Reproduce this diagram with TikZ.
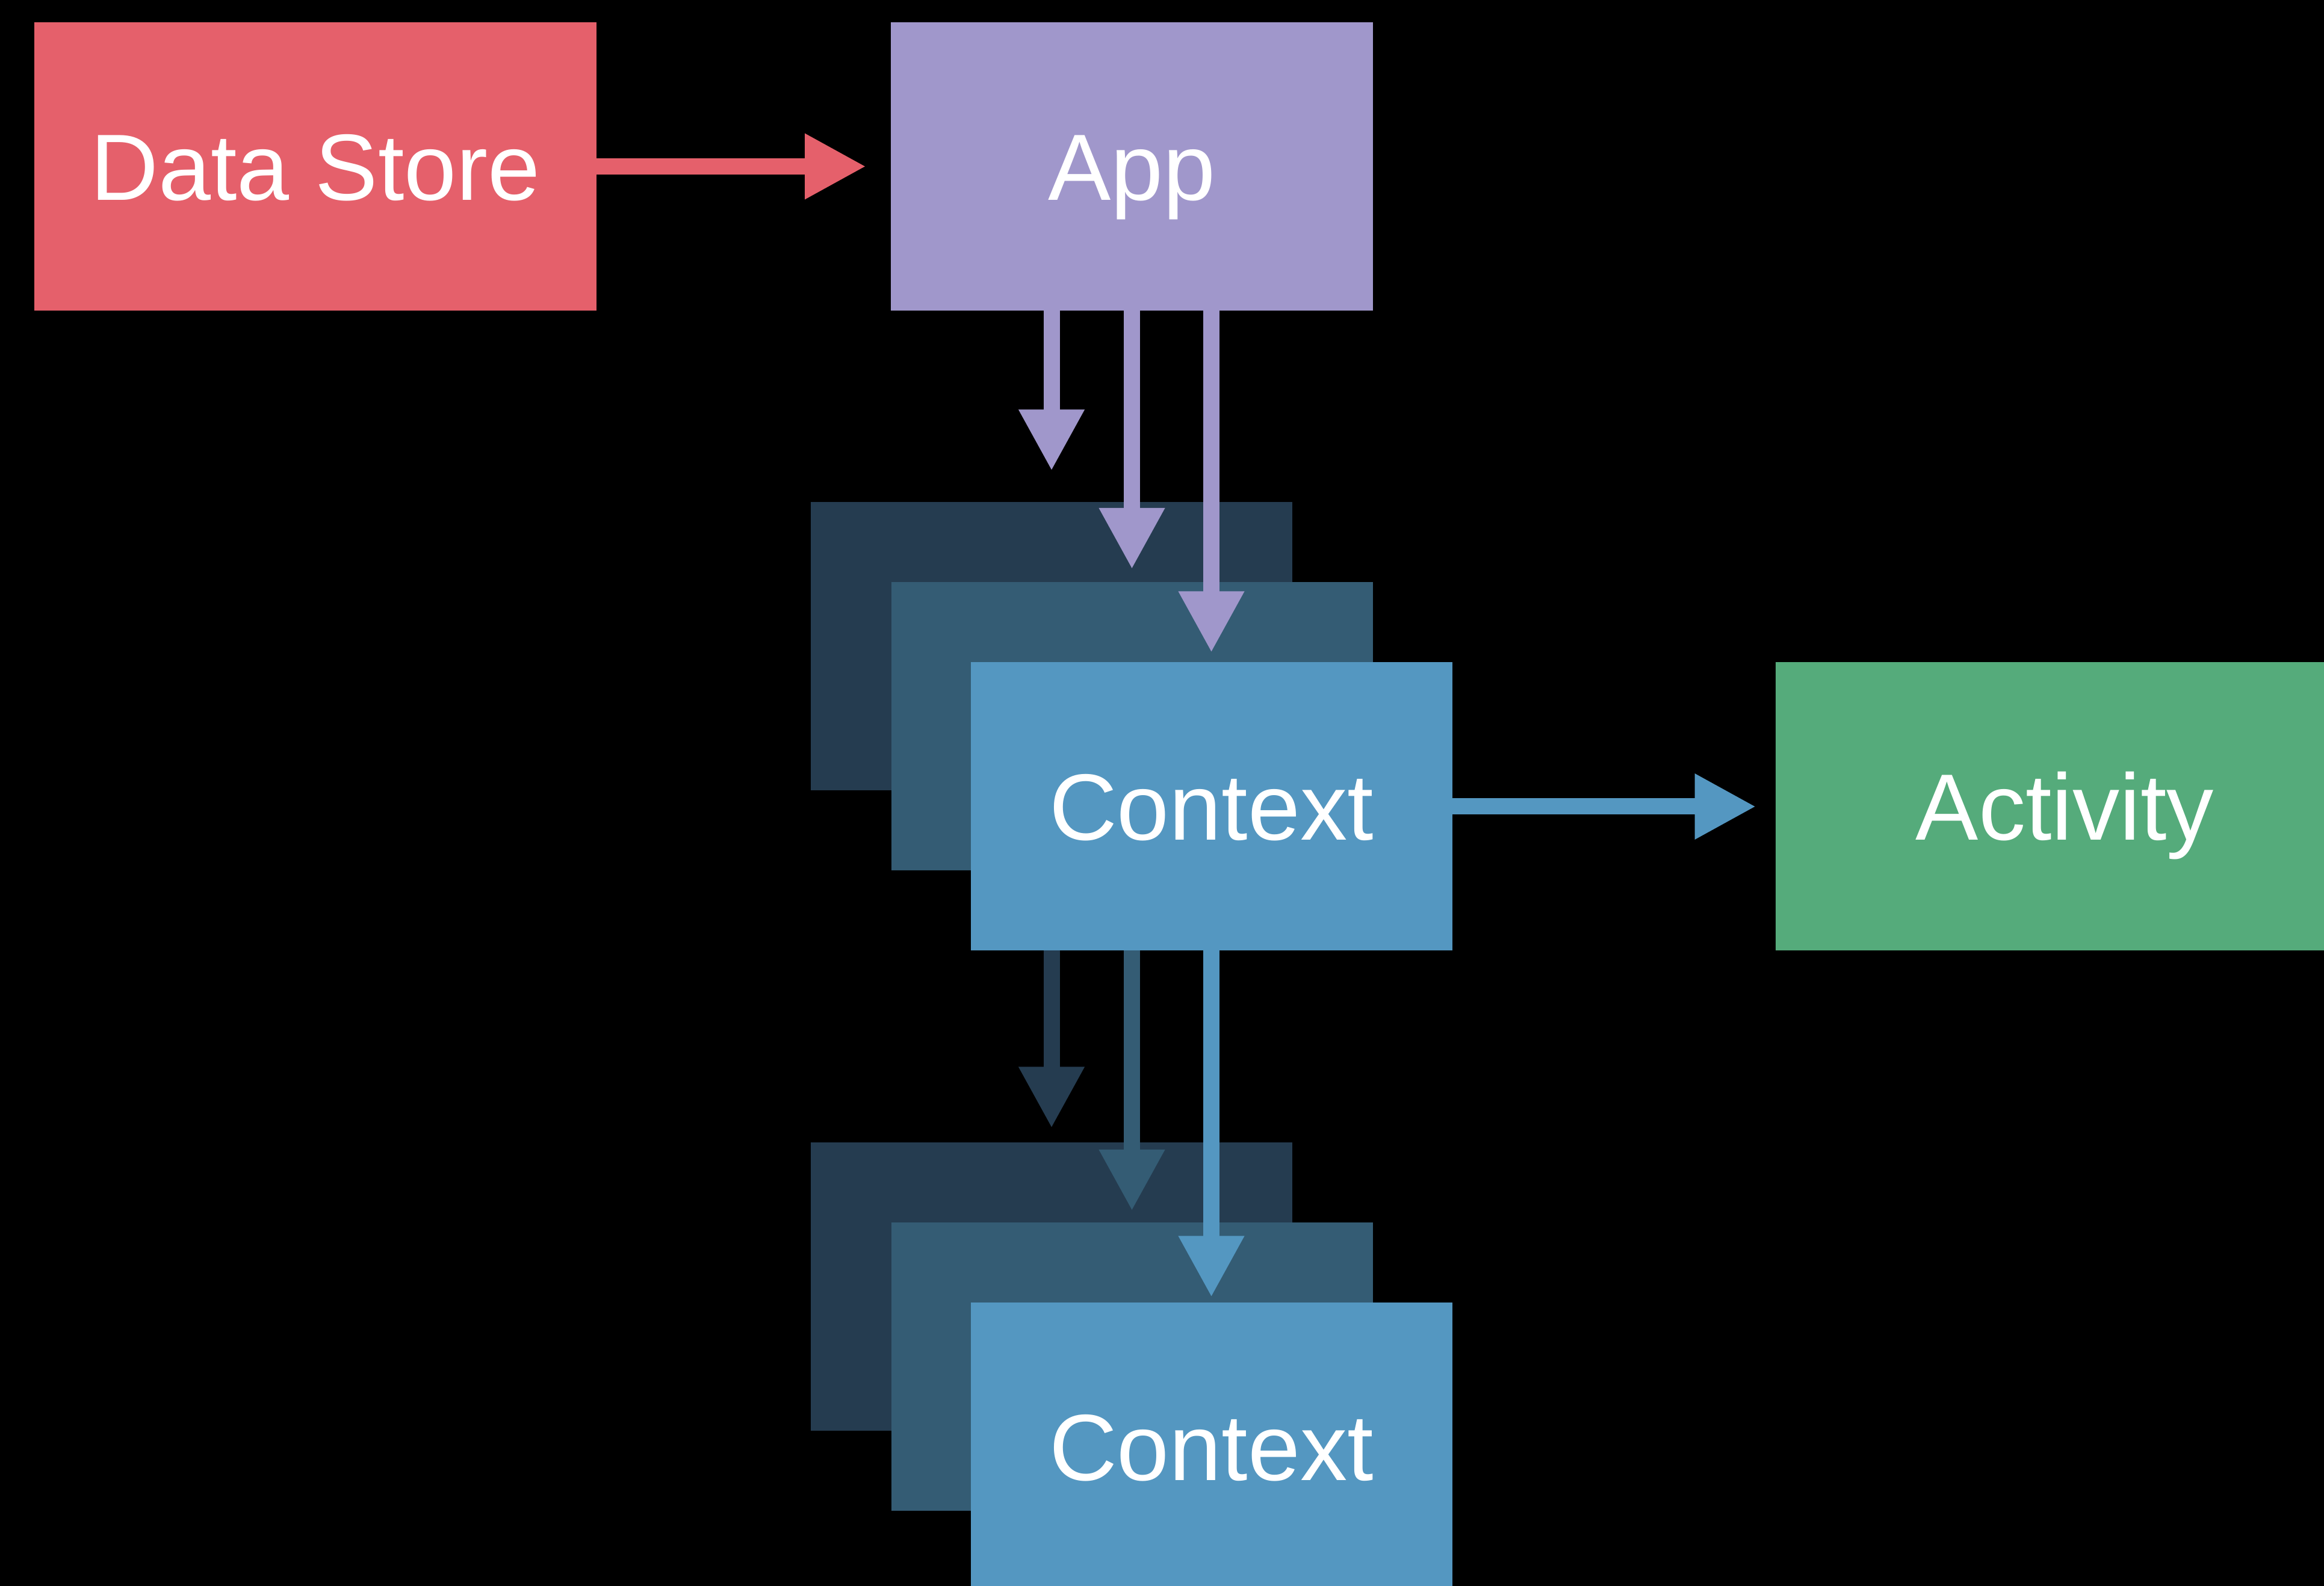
\documentclass[tikz,border=0pt]{standalone}
\usepackage{fontspec}
\setmainfont{Liberation Sans}
\usetikzlibrary{arrows.meta,positioning,calc}
\definecolor{storered}{HTML}{E5606B}
\definecolor{applav}{HTML}{A097CB}
\definecolor{ctxdark}{HTML}{253C50}
\definecolor{ctxmid}{HTML}{345C74}
\definecolor{ctxblue}{HTML}{5497C1}
\definecolor{actgreen}{HTML}{55AB7B}
\tikzset{
  % Block: flat coloured fill, white label
  blk/.style={rectangle, draw=none, inner sep=0pt, outer sep=0pt,
              minimum width=8.0cm, minimum height=4.79cm, text=white,
              font=\fontsize{44.5}{50}\selectfont, text height=1.12cm, text depth=0pt},
  blk-wide/.style={blk, minimum width=9.34cm},
  % Context layers, back to front
  layer-back/.style={blk, fill=ctxdark},
  layer-mid/.style={blk, fill=ctxmid},
  layer-front/.style={blk, fill=ctxblue},
  % Arrows
  flowarr/.style={-{Triangle[length=1.02cm, width=1.02cm]}, line width=0.27cm}
}
\begin{document}
\begin{tikzpicture}

% Canvas
\fill[black] (0,0) rectangle (38.61,26.35);
\useasboundingbox (0,0) rectangle (38.61,26.35);

% Top row
\node[blk-wide, fill=storered] (store) at (5.24,23.585) {Data Store};
\node[blk, minimum width=8.01cm, fill=applav, right=4.89cm of store] (app) {App};

% First context stack
\node[layer-back] (back1) at (17.47,15.61) {};
\node[layer-mid] (mid1) at ($(back1)+(1.335,-1.325)$) {};
\node[layer-front] (ctx1) at ($(mid1)+(1.32,-1.335)$) {Context};

% Activity
\node[blk, minimum width=9.62cm, fill=actgreen, right=5.37cm of ctx1] (act) {Activity};

% Second context stack
\node[layer-back] (back2) at ($(back1)+(0,-10.64)$) {};
\node[layer-mid] (mid2) at ($(mid1)+(0,-10.64)$) {};
\node[layer-front] (ctx2) at ($(ctx1)+(0,-10.64)$) {Context};

% Arrows
\draw[flowarr, storered, shorten >=0.41cm] (store) -- (app);
\draw[flowarr, applav, shorten >=0.52cm] (app.south -| back1.north) -- (back1.north);
\draw[flowarr, applav, shorten >=0.21cm] (app.south -| mid1.north) -- (mid1.north);
\draw[flowarr, applav, shorten >=0.16cm] (app.south -| ctx1.north) -- (ctx1.north);
\draw[flowarr, ctxblue, shorten >=0.32cm] (ctx1) -- (act);
\draw[flowarr, ctxdark, shorten >=0.24cm] (ctx1.south -| back2.north) -- (back2.north);
\draw[flowarr, ctxmid, shorten >=0.19cm] (ctx1.south -| mid2.north) -- (mid2.north);
\draw[flowarr, ctxblue, shorten >=0.09cm] (ctx1.south -| ctx2.north) -- (ctx2.north);

\end{tikzpicture}
\end{document}
